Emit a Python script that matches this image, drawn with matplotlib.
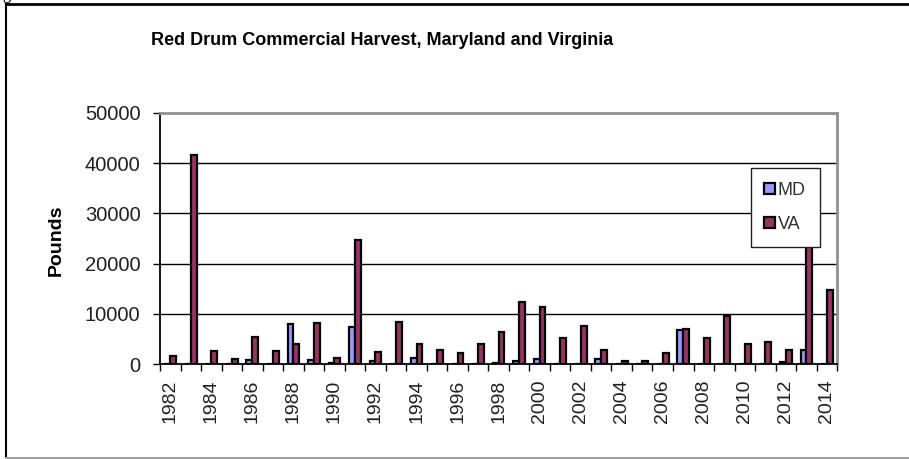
import matplotlib
matplotlib.use("Agg")
import matplotlib.pyplot as plt
from matplotlib.lines import Line2D
import numpy as np

plt.rcParams['font.family'] = ['Liberation Sans', 'DejaVu Sans']

years = list(range(1982, 2015))
md_pounds = [0, 100, 0, 0, 850, 0, 7950, 850, 200, 7480,
             650, 150, 1190, 100, 0, 100, 300, 650, 990, 0,
             0, 990, 0, 0, 0, 6760, 100, 100, 100, 0,
             450, 2900, 100]
va_pounds = [1650, 41500, 2650, 1100, 5500, 2650, 3950, 8250, 1300, 24700,
             2400, 8450, 3950, 2900, 2200, 3950, 6500, 12300, 11300, 5300,
             7700, 2900, 650, 650, 2200, 7050, 5300, 9650, 3950, 4450,
             2900, 27000, 14750]
y_ticks = [0, 10000, 20000, 30000, 40000, 50000]

md_color = '#9999FF'
va_color = '#993366'

fig = plt.figure(figsize=(9.09, 4.59), dpi=100)
ax = fig.add_axes([0.176, 0.2063, 0.745, 0.5482])

x = np.arange(len(years))
w = 1 / 3.5  # two bars per group, 150% gap
ax.bar(x - w / 2, md_pounds, w, color=md_color, edgecolor='black',
       linewidth=1.6, label='MD', zorder=3)
ax.bar(x + w / 2, va_pounds, w, color=va_color, edgecolor='black',
       linewidth=1.6, label='VA', zorder=3)

ax.set_xlim(-0.5, len(years) - 0.5)
ax.set_ylim(0, 50000)
ax.set_yticks(y_ticks)
ax.set_yticklabels([str(v) for v in y_ticks], fontsize=14.5, color='#202020')
for v in y_ticks[1:-1]:
    ax.axhline(v, color='black', linewidth=1, zorder=1)

# ticks between categories, labels on every other year
ax.set_xticks(np.arange(-0.5, len(years)))
ax.set_xticklabels([])
ax.set_xticks(x[::2], minor=True)
ax.set_xticklabels([str(y) for y in years[::2]], minor=True,
                   rotation=90, fontsize=14, color='#202020')
ax.tick_params(axis='x', which='major', length=5, width=1, direction='out')
ax.tick_params(axis='x', which='minor', length=0, pad=11)
ax.tick_params(axis='y', length=5, width=1, direction='out', pad=9)

for side in ['left', 'bottom']:
    ax.spines[side].set_color('black')
    ax.spines[side].set_linewidth(1.3)
for side in ['top', 'right']:
    ax.spines[side].set_color('#909090')
    ax.spines[side].set_linewidth(2)

leg = ax.legend(loc='upper left', bbox_to_anchor=(0.8726, 0.779),
                borderaxespad=0, fontsize=13, frameon=True, fancybox=False,
                edgecolor='#202020', framealpha=1, borderpad=0.75,
                labelspacing=0.95, handlelength=0.6, handleheight=0.6,
                handletextpad=0.15)
leg.get_frame().set_linewidth(1)
leg.set_zorder(10)
for t in leg.get_texts():
    t.set_color('#303030')

fig.text(0.42, 0.911, 'Red Drum Commercial Harvest, Maryland and Virginia',
         ha='center', va='center', fontsize=13, fontweight='bold')
fig.text(0.0624, 0.477, 'Pounds', rotation=90, ha='center', va='center',
         fontsize=14, fontweight='bold')
fig.text(-0.012, 1 + 1 / 459, 'Figure', fontsize=12,
         family='Liberation Serif', va='baseline', ha='left')

# chart frame
fig.add_artist(Line2D([6 / 909, 6 / 909], [1.5 / 459, 1 - 3.5 / 459],
                      color='black', linewidth=1.5))
fig.add_artist(Line2D([6 / 909, 1], [1 - 3.5 / 459, 1 - 3.5 / 459],
                      color='black', linewidth=2))
fig.add_artist(Line2D([6 / 909, 1], [1.5 / 459, 1.5 / 459],
                      color='#a0a0a0', linewidth=1.5))

fig.savefig('out.png', dpi=100)
